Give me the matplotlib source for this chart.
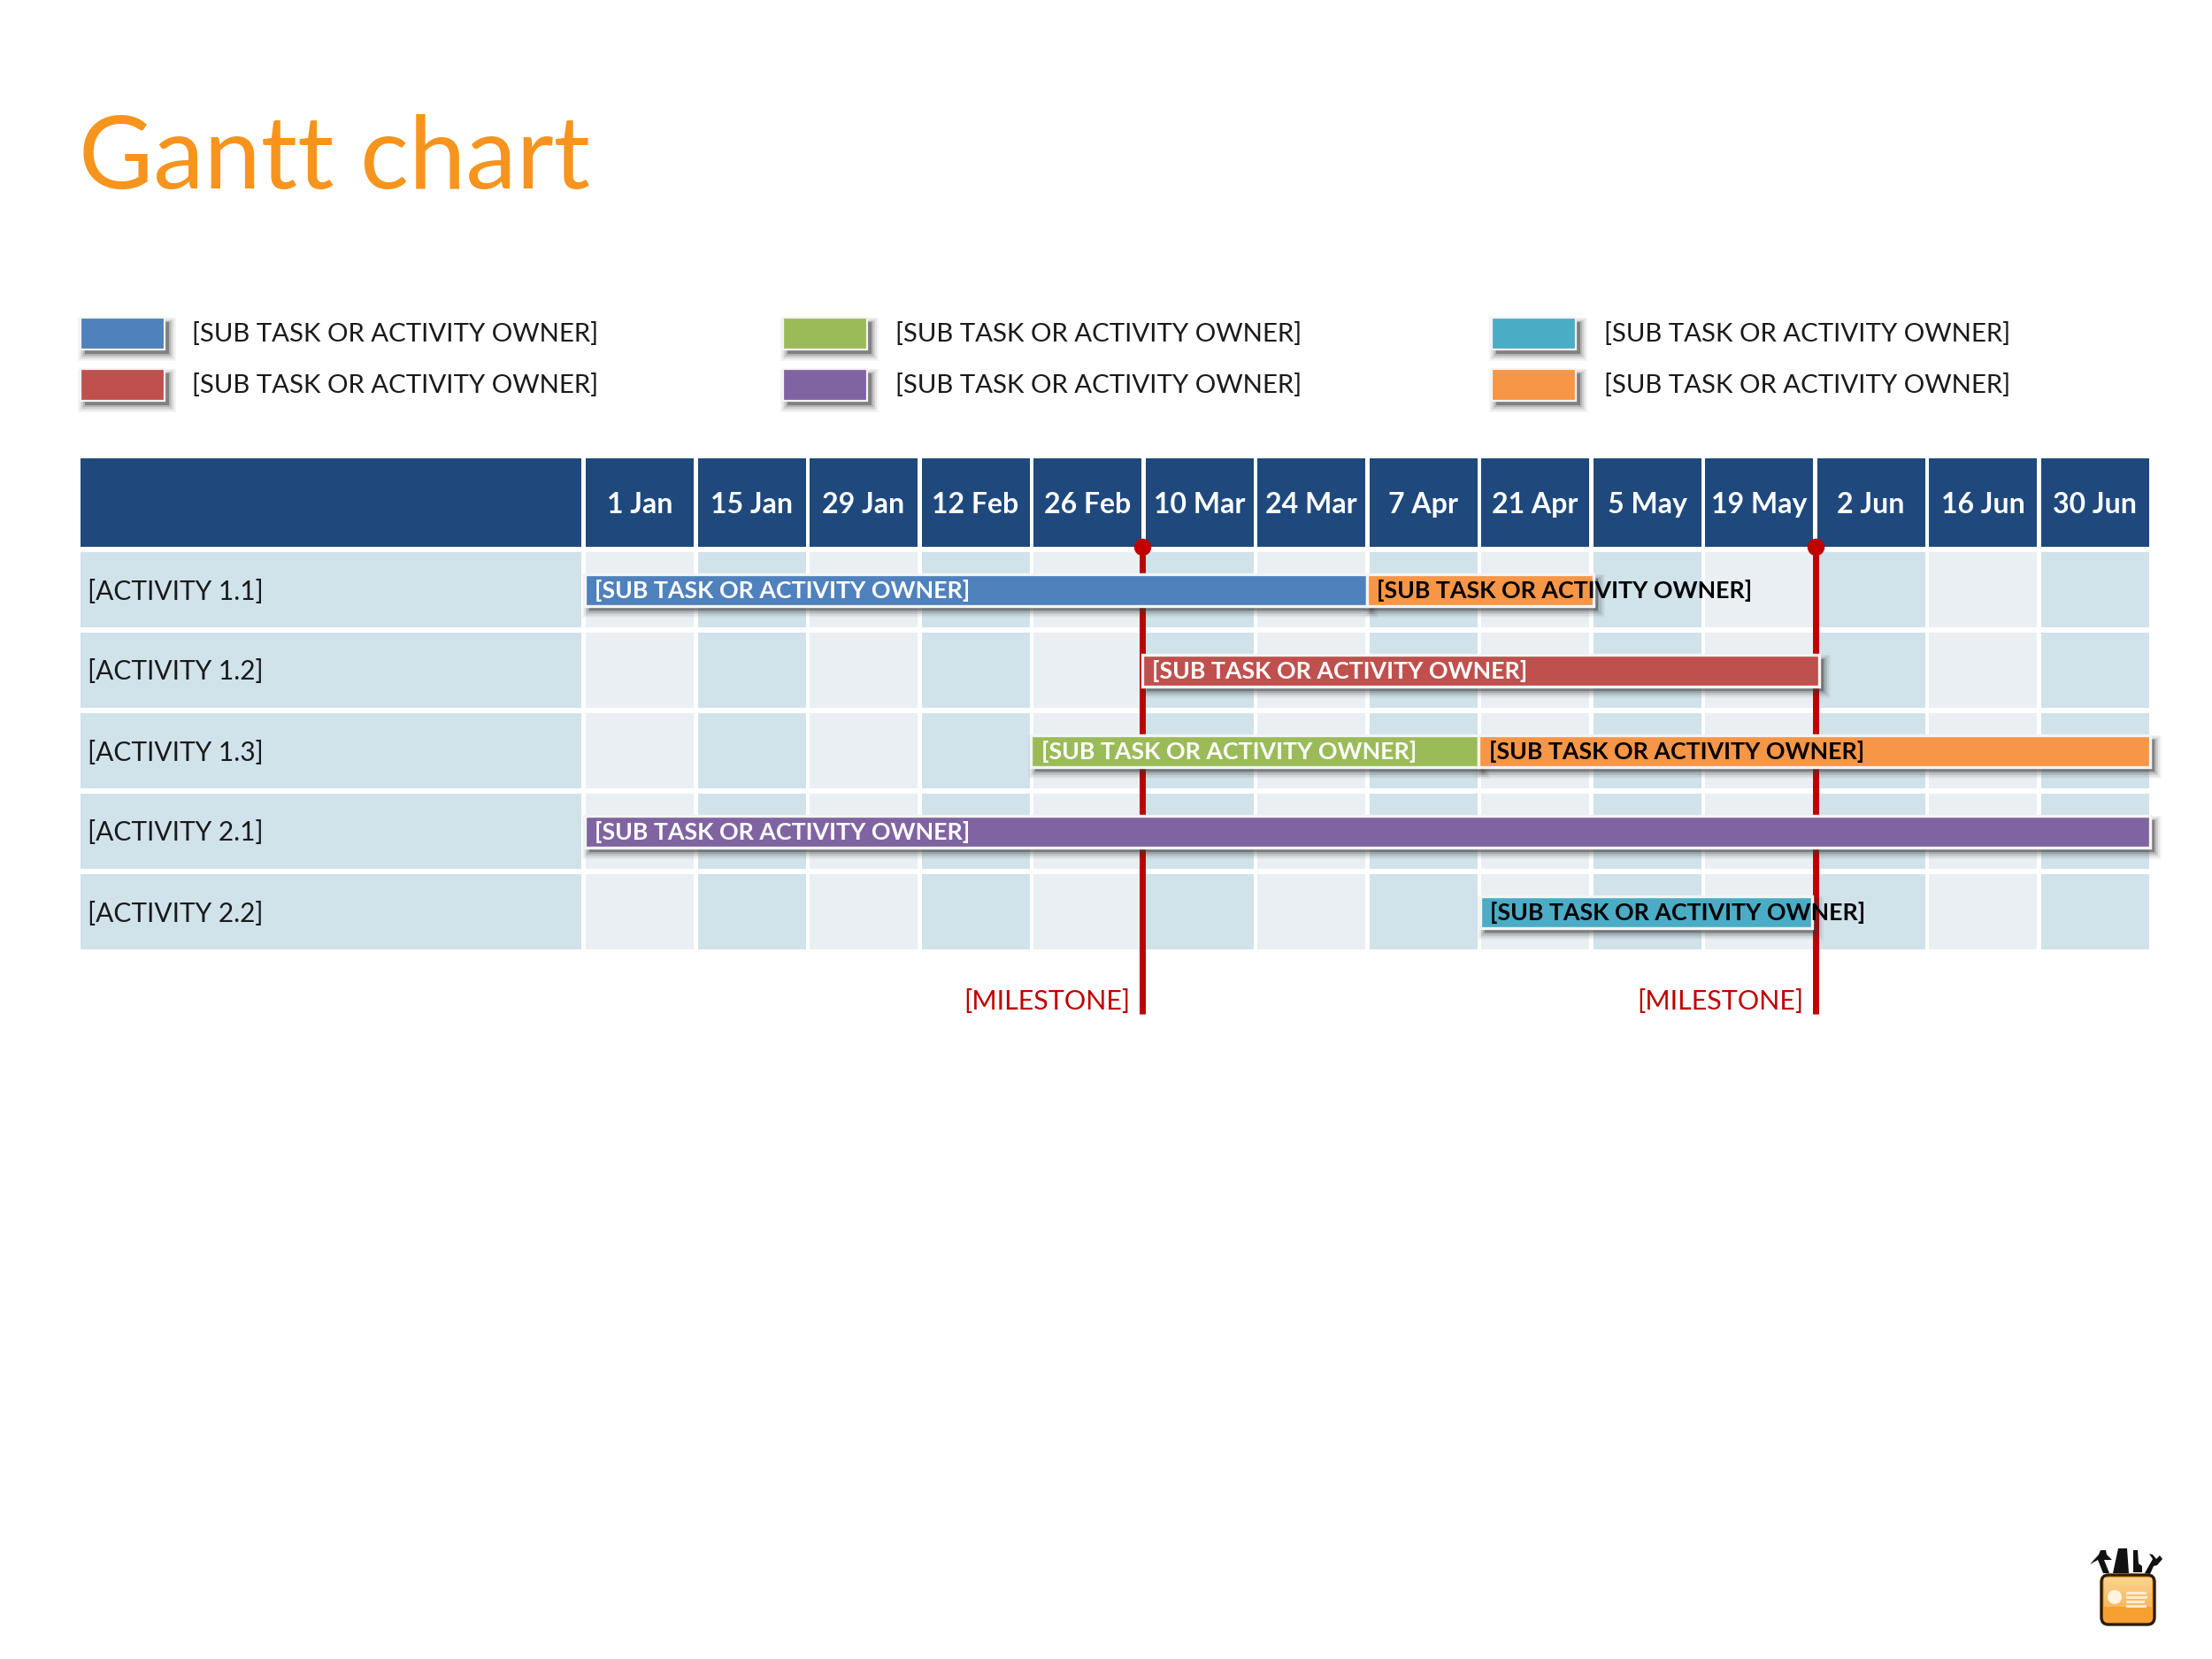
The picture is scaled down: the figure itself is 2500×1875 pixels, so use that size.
import matplotlib
matplotlib.use("Agg")
import matplotlib.pyplot as plt
from matplotlib.patches import Rectangle, FancyBboxPatch, Polygon, Circle
import numpy as np

plt.rcParams['font.family'] = ['Lato', 'DejaVu Sans']

# ---------- data ----------
TITLE = "Gantt chart"
PERIODS = ["1 Jan", "15 Jan", "29 Jan", "12 Feb", "26 Feb", "10 Mar", "24 Mar",
           "7 Apr", "21 Apr", "5 May", "19 May", "2 Jun", "16 Jun", "30 Jun"]
ACTIVITIES = ["[ACTIVITY 1.1]", "[ACTIVITY 1.2]", "[ACTIVITY 1.3]",
              "[ACTIVITY 2.1]", "[ACTIVITY 2.2]"]
OWNER = "[SUB TASK OR ACTIVITY OWNER]"
BLUE, RED, GREEN, PURPLE, TEAL, ORANGE = ("#4F81BD", "#C0504D", "#9BBB59",
                                          "#8064A2", "#4BACC6", "#F79646")
LEGEND_COLORS = [[BLUE, RED], [GREEN, PURPLE], [TEAL, ORANGE]]
# row, start period, end period, colour, text colour (in drawing order)
TASK_ROW = [0, 0, 1, 2, 2, 3, 4]
TASK_START = [-0.01, 6.98, 4.97, 3.98, 7.98, -0.01, 7.99]
TASK_END = [6.98, 9.0, 11.02, 7.98, 13.98, 13.98, 10.96]
TASK_COLOR = [BLUE, ORANGE, RED, GREEN, ORANGE, PURPLE, TEAL]
TASK_TEXT = ["white", "black", "white", "white", "black", "white", "black"]
MILESTONES = [4.975, 10.99]
MILESTONE_LABEL = "[MILESTONE]"

W, H, DPI = 2500, 1875, 200
fig = plt.figure(figsize=(W / DPI, H / DPI), dpi=DPI, facecolor="white")

# page overlay, in pixels: title, legend, logo
page = fig.add_axes([0, 0, 1, 1], zorder=1)
page.set_xlim(0, W); page.set_ylim(H, 0); page.axis("off")

# chart axes: x in periods, y in rows
X0, PITCH = 662, 126.5
Y0, RPITCH = 624, 91.0
ax = fig.add_axes([X0 / W, 1 - (Y0 + 5 * RPITCH) / H, 14 * PITCH / W, 5 * RPITCH / H], zorder=2)
ax.set_xlim(0, 14); ax.set_ylim(5, 0); ax.axis("off")
px = 1 / PITCH
py = 1 / RPITCH
LABEL_X = (91 - X0) * px
LABEL_W = (657 - 91) * px

def shadow(a, x, y, w, h, ux=1.0, uy=1.0, z=3):
    """soft drop shadow built from stacked translucent rectangles"""
    for grow, alpha in zip((8, 6, 4, 2, 0), (.05, .08, .12, .18, .40)):
        a.add_patch(Rectangle((x + (5 - grow) * ux, y + (5 - grow * 0.6) * uy),
                              w + 2 * grow * ux, h + 2 * grow * uy * 0.8,
                              fc="#383838", ec="none", alpha=alpha, zorder=z, clip_on=False))

# header
ax.add_patch(Rectangle((LABEL_X, -106 * py), LABEL_W, 100 * py, fc="#1F497D", ec="none", clip_on=False))
for i, p in enumerate(PERIODS):
    ax.add_patch(Rectangle((i, -106 * py), 122 * px, 100 * py, fc="#1F497D", ec="none", clip_on=False))
    ax.text(i + 61 * px, -53.5 * py, p, color="white", ha="center", va="center",
            fontsize=11.5, fontweight="bold", clip_on=False)

# rows
for r, name in enumerate(ACTIVITIES):
    ax.add_patch(Rectangle((LABEL_X, r), LABEL_W, 84.5 * py, fc="#D0E2EA", ec="none", clip_on=False))
    ax.text(LABEL_X + 8 * px, r + 44.5 * py, name, color="#1a1a1a", ha="left", va="center",
            fontsize=10.75, clip_on=False)
    for i in range(len(PERIODS)):
        ax.add_patch(Rectangle((i, r), 122 * px, 84.5 * py,
                               fc="#E9EFF3" if i % 2 == 0 else "#D0E2EA", ec="none"))

# milestones
for m in MILESTONES:
    ax.plot([m, m], [-5 * py, 522 * py], color="#C00000", lw=2.5, solid_capstyle="butt", zorder=2,
            clip_on=False)
    ax.plot([m], [-6 * py], "o", ms=7.0, color="#C00000", mec="none", zorder=6, clip_on=False)
    ax.text(m - 14 * px, 508 * py, MILESTONE_LABEL, color="#C00000", ha="right", va="center",
            fontsize=11, clip_on=False)

# tasks
BAR_TOP, BAR_H = 25 * py, 36 * py
for r, s, e, c in zip(TASK_ROW, TASK_START, TASK_END, TASK_COLOR):
    shadow(ax, s, r + BAR_TOP, e - s, BAR_H, px, py)
    ax.add_patch(Rectangle((s, r + BAR_TOP), e - s, BAR_H, fc=c, ec="#F4F4F4", lw=1.2, zorder=4,
                           clip_on=False))
for r, s, tc in zip(TASK_ROW, TASK_START, TASK_TEXT):
    ax.text(s + 11.5 * px, r + 43.5 * py, OWNER, color=tc, ha="left", va="center", fontsize=9.65,
            fontweight="bold", zorder=7, clip_on=False)

# title
page.text(89, 213, TITLE, color="#F7941D", fontsize=41.5, ha="left", va="baseline")

# legend
for lx, tx, col in zip((91, 885, 1686), (217, 1012, 1813), LEGEND_COLORS):
    for ly, c in zip((359, 417), col):
        shadow(page, lx, ly, 95, 36, z=2)
        page.add_patch(Rectangle((lx, ly), 95, 36, fc=c, ec="#F4F4F4", lw=0.8, zorder=3))
        page.text(tx, ly + 18, OWNER, color="#1a1a1a", ha="left", va="center", fontsize=10.6, zorder=4)

# logo
page.add_patch(FancyBboxPatch((2375, 1780), 60, 56, boxstyle="round,pad=0,rounding_size=8",
                              fc="#F7A030", ec="#2a1c00", lw=1.2, zorder=3))
page.imshow(np.linspace(0, 1, 40).reshape(-1, 1), extent=(2378, 2432, 1816, 1783), aspect="auto",
            cmap=matplotlib.colors.LinearSegmentedColormap.from_list("l", ["#FBD38F", "#F7B860"]), zorder=4)
page.set_xlim(0, W); page.set_ylim(H, 0)
page.add_patch(Circle((2390, 1805), 8, fc="#FFF4E0", ec="none", zorder=5))
for y, x1 in zip((1800, 1805, 1810, 1815), (2424, 2425, 2422, 2424)):
    page.plot([2404, x1], [y, y], color="#FFF0D8", lw=1.0, zorder=5)
for poly in ([(2362, 1768), (2372, 1757), (2374, 1752), (2380, 1752), (2381, 1757), (2387, 1763),
              (2378, 1763), (2384, 1778), (2377, 1778), (2371, 1763)],
             ((2388, 1778), (2394, 1750), (2404, 1750), (2406, 1778)),
             ((2411, 1752), (2416, 1752), (2417, 1767), (2421, 1770), (2421, 1777), (2411, 1777)),
             ((2424, 1778), (2433, 1762), (2429, 1756), (2433, 1757), (2437, 1762), (2441, 1758),
              (2444, 1762), (2438, 1769), (2434, 1770), (2430, 1779))):
    page.add_patch(Polygon(poly, closed=True, fc="#111111", ec="none", zorder=4))

fig.savefig("out.png", dpi=DPI)
